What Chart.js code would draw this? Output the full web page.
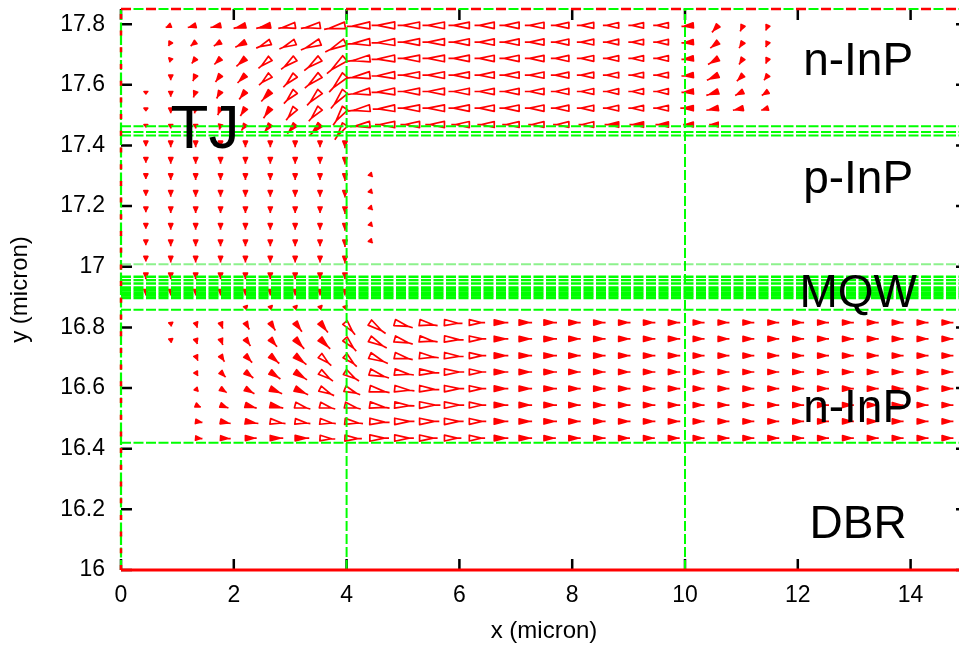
<!DOCTYPE html>
<html>
<head>
<meta charset="utf-8">
<title>Current flow</title>
<script src="https://cdn.jsdelivr.net/npm/chart.js@4.4.0/dist/chart.umd.min.js"></script>
<style>
  html, body { margin: 0; padding: 0; background: #fff; overflow: hidden; }
  #wrap { width: 975px; height: 647px; position: relative; }
</style>
</head>
<body>
<div id="wrap"><canvas id="flowChart"></canvas></div>
<script>
// sample columns of the current-density grid (micron)
const cols = [0.441, 0.882, 1.324, 1.765, 2.206, 2.647, 3.088, 3.529, 3.971, 4.412, 4.853, 5.294, 5.735,
  6.176, 6.618, 7.059, 7.5, 7.941, 8.382, 8.824, 9.265, 9.706, 10.147, 10.588, 11.029, 11.471, 11.912,
  12.353, 12.794, 13.235, 13.676, 14.118, 14.559];

// upper n-InP: rows and vector components (micron), null = no vector
const upperRows = [17.796, 17.741, 17.687, 17.632, 17.578, 17.523, 17.469];
const upperU = [
  [null, -0.09, -0.14, -0.18, -0.21, -0.25, -0.3, -0.34, -0.37, -0.41, -0.41, -0.39, -0.39, -0.37, -0.35, -0.35, -0.34, -0.32, -0.3, -0.28, -0.27, -0.27, -0.21, -0.11, -0.05, -0.04],
  [null, -0.04, -0.09, -0.12, -0.18, -0.25, -0.28, -0.34, -0.35, -0.41, -0.41, -0.39, -0.39, -0.37, -0.35, -0.35, -0.34, -0.32, -0.3, -0.28, -0.27, -0.27, -0.21, -0.14, -0.07, -0.04],
  [null, -0.02, -0.07, -0.11, -0.16, -0.21, -0.25, -0.28, -0.32, -0.41, -0.41, -0.39, -0.39, -0.37, -0.35, -0.35, -0.34, -0.32, -0.3, -0.28, -0.27, -0.27, -0.21, -0.18, -0.07, -0.04],
  [null, 0, -0.05, -0.09, -0.14, -0.2, -0.21, -0.27, -0.28, -0.41, -0.41, -0.39, -0.39, -0.37, -0.35, -0.35, -0.34, -0.32, -0.3, -0.28, -0.27, -0.27, -0.21, -0.2, -0.11, -0.07],
  [0, 0, -0.04, -0.07, -0.11, -0.16, -0.2, -0.23, -0.25, -0.39, -0.41, -0.39, -0.39, -0.37, -0.35, -0.35, -0.34, -0.32, -0.3, -0.28, -0.27, -0.27, -0.21, -0.21, -0.14, -0.11],
  [0, 0, -0.02, -0.05, -0.09, -0.12, -0.16, -0.2, -0.21, -0.39, -0.39, -0.39, -0.39, -0.37, -0.35, -0.35, -0.34, -0.32, -0.3, -0.28, -0.27, -0.27, -0.23, -0.21, -0.18, -0.12],
  [0, 0, 0, -0.02, -0.07, -0.11, -0.14, -0.18, -0.18, -0.35, -0.35, -0.34, -0.34, -0.32, -0.3, -0.3, -0.28, -0.28, -0.27, -0.25, -0.25, -0.23, -0.18, -0.16]
];
const upperV = [
  [null, -0.007, -0.007, -0.007, -0.01, -0.01, -0.01, -0.01, -0.013, -0.003, 0, 0, 0, 0, 0, 0, 0, 0, 0, 0, 0, 0, -0.003, -0.023, -0.02, -0.017],
  [null, -0.013, -0.013, -0.013, -0.017, -0.02, -0.023, -0.026, -0.033, -0.007, -0.003, 0, 0, 0, 0, 0, 0, 0, 0, 0, 0, 0, -0.003, -0.02, -0.02, -0.017],
  [null, -0.013, -0.017, -0.02, -0.026, -0.033, -0.036, -0.04, -0.05, -0.01, -0.003, 0, 0, 0, 0, 0, 0, 0, 0, 0, 0, 0, -0.003, -0.02, -0.02, -0.017],
  [null, -0.017, -0.02, -0.023, -0.026, -0.033, -0.04, -0.043, -0.056, -0.01, -0.003, 0, 0, 0, 0, 0, 0, 0, 0, 0, 0, 0, -0.003, -0.017, -0.02, -0.017],
  [-0.01, -0.017, -0.02, -0.023, -0.026, -0.033, -0.04, -0.046, -0.056, -0.01, -0.003, 0, 0, 0, 0, 0, 0, 0, 0, 0, 0, 0, -0.003, -0.013, -0.013, -0.013],
  [-0.01, -0.017, -0.017, -0.023, -0.026, -0.033, -0.04, -0.043, -0.056, -0.01, -0.003, 0, 0, 0, 0, 0, 0, 0, 0, 0, 0, 0, 0, -0.007, -0.007, -0.007],
  [-0.01, -0.013, -0.013, -0.017, -0.02, -0.026, -0.03, -0.036, -0.05, -0.007]
];

// p-InP aperture and MQW
const pRows = [17.414, 17.36, 17.306, 17.251, 17.197, 17.142, 17.088, 17.034, 16.979, 16.925, 16.87];
const pU = [
  [0, 0, 0, 0, 0, 0, 0, 0, 0],
  [0, 0, 0, 0, 0, 0, 0, 0, 0],
  [0, 0, 0, 0, 0, 0, 0, 0, 0, 0.05],
  [0, 0, 0, 0, 0, 0, 0, 0, 0, 0.05],
  [0, 0, 0, 0, 0, 0, 0, 0, 0, 0.05],
  [0, 0, 0, 0, 0, 0, 0, 0, 0, 0.05],
  [0, 0, 0, 0, 0, 0, 0, 0, 0, 0.05],
  [0, 0, 0, 0, 0, 0, 0, 0, 0],
  [0, 0, 0, 0, 0, 0, 0, 0, 0],
  [0, 0, 0, 0, 0, 0, 0, 0, 0],
  [null, null, null, null, 0.02, 0.02, 0.02, 0.02, 0.02]
];
const pV = [
  [-0.017, -0.02, -0.02, -0.02, -0.02, -0.02, -0.02, -0.02, -0.023],
  [-0.017, -0.02, -0.02, -0.02, -0.02, -0.02, -0.02, -0.02, -0.023],
  [-0.017, -0.02, -0.02, -0.02, -0.02, -0.02, -0.02, -0.02, -0.023, -0.01],
  [-0.017, -0.02, -0.02, -0.02, -0.02, -0.02, -0.02, -0.02, -0.023, -0.01],
  [-0.017, -0.02, -0.02, -0.02, -0.02, -0.02, -0.02, -0.02, -0.023, -0.01],
  [-0.017, -0.02, -0.02, -0.02, -0.02, -0.02, -0.02, -0.02, -0.023, -0.01],
  [-0.017, -0.02, -0.02, -0.02, -0.02, -0.02, -0.02, -0.02, -0.023, -0.01],
  [-0.017, -0.02, -0.02, -0.02, -0.02, -0.02, -0.02, -0.02, -0.023],
  [-0.02, -0.02, -0.02, -0.02, -0.02, -0.02, -0.02, -0.02, -0.02],
  [-0.02, -0.02, -0.02, -0.02, -0.02, -0.02, -0.02, -0.02, -0.02],
  [null, null, null, null, -0.013, -0.013, -0.013, -0.013, -0.013]
];

// lower n-InP
const lowerRows = [16.816, 16.762, 16.707, 16.653, 16.598, 16.544, 16.49, 16.435];
const lowerU = [
  [null, 0.01, 0.03, 0.04, 0.07, 0.09, 0.12, 0.14, 0.18, 0.28, 0.32, 0.32, 0.32, 0.28, 0.25, 0.23, 0.23, 0.21, 0.21, 0.21, 0.21, 0.21, 0.2, 0.2, 0.2, 0.2, 0.2, 0.2, 0.2, 0.2, 0.2, 0.2, 0.2],
  [null, 0.01, 0.03, 0.04, 0.09, 0.12, 0.16, 0.18, 0.2, 0.3, 0.32, 0.32, 0.34, 0.3, 0.25, 0.23, 0.23, 0.21, 0.21, 0.21, 0.21, 0.21, 0.2, 0.2, 0.2, 0.2, 0.2, 0.2, 0.2, 0.2, 0.2, 0.2, 0.2],
  [null, null, 0.04, 0.07, 0.12, 0.16, 0.2, 0.2, 0.21, 0.32, 0.32, 0.34, 0.34, 0.3, 0.25, 0.23, 0.23, 0.21, 0.21, 0.21, 0.21, 0.21, 0.2, 0.2, 0.2, 0.2, 0.2, 0.2, 0.2, 0.2, 0.2, 0.2, 0.2],
  [null, null, 0.04, 0.09, 0.14, 0.18, 0.21, 0.23, 0.25, 0.34, 0.34, 0.35, 0.35, 0.3, 0.25, 0.23, 0.23, 0.21, 0.21, 0.21, 0.21, 0.21, 0.2, 0.2, 0.2, 0.2, 0.2, 0.2, 0.2, 0.2, 0.2, 0.2, 0.2],
  [null, null, 0.05, 0.11, 0.16, 0.21, 0.23, 0.25, 0.27, 0.35, 0.35, 0.35, 0.35, 0.3, 0.25, 0.23, 0.23, 0.21, 0.21, 0.21, 0.21, 0.21, 0.2, 0.2, 0.2, 0.2, 0.2, 0.2, 0.2, 0.2, 0.2, 0.2, 0.2],
  [null, null, 0.09, 0.14, 0.2, 0.23, 0.27, 0.27, 0.28, 0.35, 0.35, 0.37, 0.35, 0.3, 0.25, 0.23, 0.23, 0.21, 0.21, 0.21, 0.21, 0.21, 0.2, 0.2, 0.2, 0.2, 0.2, 0.2, 0.2, 0.2, 0.2, 0.2, 0.2],
  [null, null, 0.12, 0.18, 0.23, 0.27, 0.27, 0.28, 0.32, 0.35, 0.35, 0.35, 0.34, 0.3, 0.25, 0.23, 0.23, 0.21, 0.21, 0.21, 0.21, 0.21, 0.2, 0.2, 0.2, 0.2, 0.2, 0.2, 0.2, 0.2, 0.2, 0.2, 0.2],
  [null, null, 0.12, 0.18, 0.2, 0.23, 0.25, 0.27, 0.3, 0.34, 0.34, 0.32, 0.3, 0.28, 0.25, 0.23, 0.21, 0.21, 0.21, 0.2, 0.2, 0.2, 0.2, 0.2, 0.2, 0.2, 0.2, 0.2, 0.2, 0.2, 0.2, 0.2, 0.2]
];
const lowerV = [
  [null, -0.013, -0.017, -0.02, -0.023, -0.026, -0.03, -0.033, -0.04, -0.036, -0.017, -0.01, -0.003],
  [null, -0.013, -0.017, -0.02, -0.023, -0.026, -0.033, -0.033, -0.04, -0.03, -0.017, -0.01, -0.003],
  [null, null, -0.017, -0.02, -0.023, -0.026, -0.03, -0.033, -0.036, -0.026, -0.013, -0.007, -0.003],
  [null, null, -0.013, -0.017, -0.02, -0.023, -0.026, -0.03, -0.03, -0.02, -0.01, -0.003],
  [null, null, -0.01, -0.013, -0.017, -0.017, -0.02, -0.023, -0.02, -0.013, -0.007, -0.003],
  [null, null, -0.007, -0.01, -0.01, -0.01, -0.013, -0.013, -0.013, -0.01, -0.003],
  [null, null, -0.003, -0.007, -0.007, -0.007, -0.007, -0.007, -0.007, -0.003],
  [null, null, -0.002, -0.002, 0, 0, 0, -0.003, -0.002]
];

// layer interfaces (micron)
const interfaceY = [17.463, 17.444, 17.433, 16.858, 16.42];
const capLayerY = 17.008;
const mqwY = [16.967, 16.956, 16.945, 16.931, 16.923, 16.914, 16.906, 16.898];
const apertureX = [4, 10];
const frameX = [0, 15];
const frameY = [16, 17.85];

const layerNames = ['n-InP', 'p-InP', 'MQW', 'n-InP', 'DBR'];
const layerNameY = [17.633, 17.244, 16.868, 16.489, 16.104];
const layerNameX = 13.07;
const junctionName = 'TJ';
const junctionAt = {x: 1.49, y: 17.391};

Chart.defaults.font.family = "'Liberation Sans', Arial, sans-serif";
Chart.defaults.color = '#000';

const arrowPoints = [];
function addRegion(rows, us, vs) {
  rows.forEach((yv, r) => {
    us[r].forEach((u, k) => {
      if (u === null) return;
      arrowPoints.push({x: cols[k], y: yv, u: u, v: vs[r][k] ?? 0});
    });
  });
}
addRegion(upperRows, upperU, upperV);
addRegion(pRows, pU, pV);
addRegion(lowerRows, lowerU, lowerV);

const GREEN = '#00ff00';
const RED = '#ff0000';

function hLine(yv, color, width, dash) {
  return {data: [{x: frameX[0], y: yv}, {x: frameX[1], y: yv}], showLine: true,
    borderColor: color, borderWidth: width, borderDash: dash, pointRadius: 0, clip: 4};
}
function vLine(xv, color, width, dash) {
  return {data: [{x: xv, y: frameY[0]}, {x: xv, y: frameY[1]}], showLine: true,
    borderColor: color, borderWidth: width, borderDash: dash, pointRadius: 0, clip: 4};
}

const datasets = [
  {label: 'current', data: arrowPoints, pointRadius: 0, showLine: false},
  hLine(frameY[0], RED, 2.8, []),
  hLine(frameY[1], RED, 2.5, [10, 15]),
  vLine(frameX[0], RED, 2.5, [5, 11.7]),
  hLine(frameY[1], GREEN, 2, [10, 2.5]),
  vLine(frameX[0], GREEN, 2.2, [10, 2.5])
];
mqwY.forEach((yv, i) => datasets.push(hLine(yv, GREEN, i < 3 ? 2.4 : 3, [10, 2.5])));
interfaceY.forEach(yv => datasets.push(hLine(yv, GREEN, 2, [10, 2.5])));
datasets.push(hLine(capLayerY, 'rgba(0,225,0,0.45)', 2, [10, 2.5]));
apertureX.forEach(xv => datasets.push(vLine(xv, GREEN, 2, [10, 3])));

// cone-shaped current vectors, tail on the grid point
const arrowPlugin = {
  id: 'currentArrows',
  beforeDatasetsDraw(chart) {
    const {ctx, chartArea: a, scales: {x, y}} = chart;
    ctx.save();
    ctx.beginPath();
    ctx.rect(a.left, a.top, a.right - a.left, a.bottom - a.top);
    ctx.clip();
    ctx.strokeStyle = RED;
    ctx.fillStyle = RED;
    ctx.lineWidth = 1.7;
    ctx.lineJoin = 'round';
    chart.data.datasets[0].data.forEach(p => {
      const x0 = x.getPixelForValue(p.x), y0 = y.getPixelForValue(p.y);
      const x1 = x.getPixelForValue(p.x + p.u), y1 = y.getPixelForValue(p.y + p.v);
      const dx = x1 - x0, dy = y1 - y0;
      const len = Math.hypot(dx, dy);
      if (len < 0.5) return;
      const ux = dx / len, uy = dy / len;
      const w = Math.min(1.6 + 0.08 * len, 3.5);
      const ax = x0 + ux * len * 0.75, ay = y0 + uy * len * 0.75;
      ctx.beginPath();
      ctx.moveTo(x0 - uy * w, y0 + ux * w);
      ctx.lineTo(ax, ay);
      ctx.lineTo(x0 + uy * w, y0 - ux * w);
      ctx.closePath();
      if (len < 15) ctx.fill();
      ctx.moveTo(ax, ay);
      ctx.lineTo(x1, y1);
      ctx.stroke();
    });
    ctx.restore();

    // inward tick marks on all four sides
    ctx.save();
    ctx.strokeStyle = '#000';
    ctx.lineWidth = 2.5;
    ctx.beginPath();
    x.ticks.forEach(t => {
      const px = x.getPixelForValue(t.value);
      ctx.moveTo(px, a.bottom); ctx.lineTo(px, a.bottom - 11);
      ctx.moveTo(px, a.top); ctx.lineTo(px, a.top + 11);
    });
    y.ticks.forEach(t => {
      const py = y.getPixelForValue(t.value);
      ctx.moveTo(a.left, py); ctx.lineTo(a.left + 11, py);
      ctx.moveTo(a.right, py); ctx.lineTo(a.right - 11, py);
    });
    ctx.stroke();
    ctx.restore();
  }
};

const labelPlugin = {
  id: 'layerLabels',
  afterDraw(chart) {
    const {ctx, scales: {x, y}} = chart;
    ctx.save();
    ctx.fillStyle = '#000';
    ctx.textAlign = 'center';
    ctx.textBaseline = 'alphabetic';
    ctx.font = "46px 'Liberation Sans', Arial, sans-serif";
    layerNames.forEach((name, i) => {
      ctx.fillText(name, x.getPixelForValue(layerNameX), y.getPixelForValue(layerNameY[i]));
    });
    ctx.font = "62px 'Liberation Sans', Arial, sans-serif";
    ctx.fillText(junctionName, x.getPixelForValue(junctionAt.x), y.getPixelForValue(junctionAt.y));
    ctx.restore();
  }
};

new Chart(document.getElementById('flowChart'), {
  type: 'scatter',
  data: {datasets: datasets},
  options: {
    responsive: true,
    maintainAspectRatio: false,
    animation: false,
    events: [],
    layout: {autoPadding: false, padding: {top: 9, right: 8, left: 0, bottom: 0}},
    plugins: {legend: {display: false}, tooltip: {enabled: false}},
    scales: {
      x: {
        type: 'linear', min: frameX[0], max: frameX[1],
        afterFit: s => { s.height = 77; s.paddingLeft = 0; s.paddingRight = 0; },
        grid: {display: false, drawTicks: false},
        border: {display: false},
        ticks: {stepSize: 2, includeBounds: false, padding: 12, maxRotation: 0, font: {size: 23}},
        title: {display: true, text: 'x (micron)', font: {size: 24}, padding: {top: 4, bottom: 1}}
      },
      y: {
        type: 'linear', min: frameY[0], max: frameY[1],
        // keep the plot edge fixed; the 17.8 label has room above it
        afterFit: s => { s.width = 121; s.paddingTop = 0; s.paddingBottom = 0; },
        grid: {display: false, drawTicks: false},
        border: {display: false},
        ticks: {stepSize: 0.2, includeBounds: false, padding: 16, font: {size: 23},
          callback: v => String(Number(v.toFixed(1)))},
        title: {display: true, text: 'y (micron)', font: {size: 24}, padding: {top: 6, bottom: 0}}
      }
    }
  },
  plugins: [arrowPlugin, labelPlugin]
});
</script>
</body>
</html>
